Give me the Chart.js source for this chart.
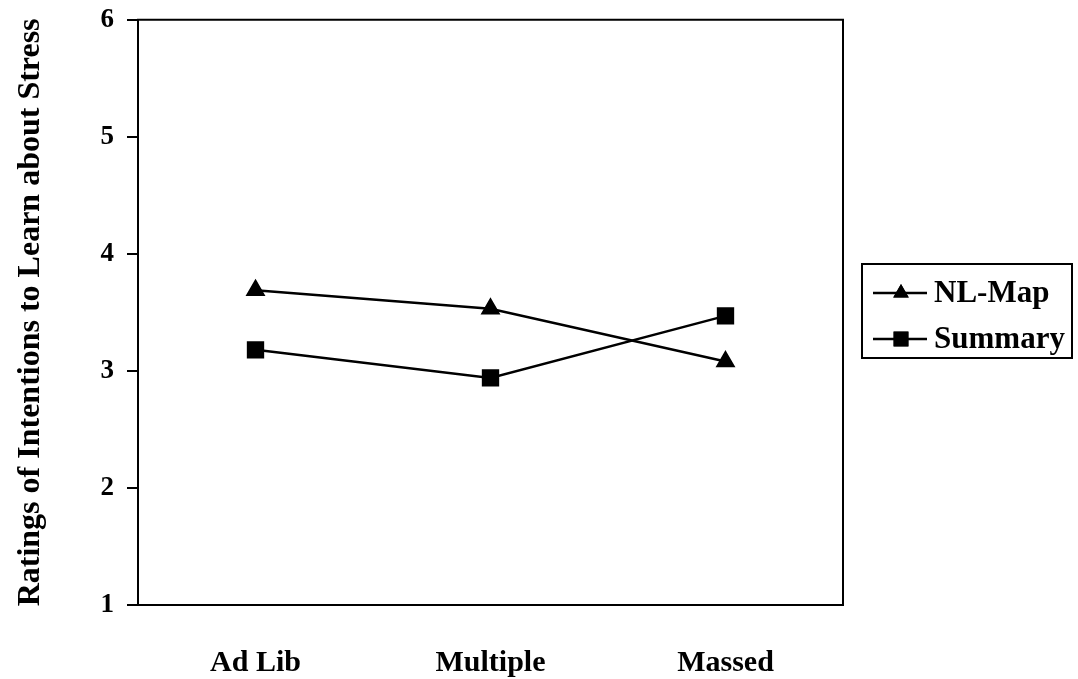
<!DOCTYPE html>
<html lang="en">
<head>
    <meta charset="UTF-8">
    <title>Ratings of Intentions to Learn about Stress</title>
    <script src="https://cdn.jsdelivr.net/npm/chart.js"></script>
    <style>
        html, body { margin: 0; padding: 0; background: #fff; }
        #wrap { width: 1078px; height: 679px; }
    </style>
</head>
<body>
<div id="wrap"><canvas id="grafico"></canvas></div>
<script>
    // Dados do gráfico
    const categorias = ["Ad Lib", "Multiple", "Massed"];
    const nlMap = [3.69, 3.53, 3.08];
    const summary = [3.18, 2.94, 3.47];
    const yTicks = [1, 2, 3, 4, 5, 6];

    const serif = "'Liberation Serif', 'Times New Roman', serif";

    // Moldura em volta da área do gráfico + legenda com caixa
    const molduraPlugin = {
        id: "moldura",
        afterDraw(chart) {
            const { ctx, chartArea: a } = chart;
            ctx.save();
            ctx.strokeStyle = "#000";
            ctx.lineWidth = 2;
            ctx.strokeRect(a.left, a.top, a.right - a.left, a.bottom - a.top);

            // legenda
            ctx.strokeRect(862, 264, 210, 94);
            const itens = [
                { label: "NL-Map", style: "triangle", r: 9, y: 293 },
                { label: "Summary", style: "rect", r: 10.5, y: 339 }
            ];
            itens.forEach(it => {
                ctx.beginPath();
                ctx.lineWidth = 2.5;
                ctx.moveTo(873, it.y);
                ctx.lineTo(927, it.y);
                ctx.stroke();
                ctx.fillStyle = "#000";
                Chart.helpers.drawPoint(ctx, { pointStyle: it.style, radius: it.r, borderWidth: 0 }, 901, it.y);
                ctx.fill();
                ctx.font = "bold 31px " + serif;
                ctx.textBaseline = "middle";
                ctx.fillText(it.label, 934, it.y + 1);
            });
            ctx.restore();
        }
    };

    new Chart(document.getElementById("grafico"), {
        type: "line",
        data: {
            labels: categorias,
            datasets: [
                {
                    label: "NL-Map",
                    data: nlMap,
                    borderColor: "#000",
                    backgroundColor: "#000",
                    borderWidth: 2.5,
                    pointStyle: "triangle",
                    pointRadius: 9,
                    pointHoverRadius: 9,
                    tension: 0
                },
                {
                    label: "Summary",
                    data: summary,
                    borderColor: "#000",
                    backgroundColor: "#000",
                    borderWidth: 2.5,
                    pointStyle: "rect",
                    pointRadius: 10.5,
                    pointHoverRadius: 10.5,
                    tension: 0
                }
            ]
        },
        options: {
            responsive: true,
            maintainAspectRatio: false,
            animation: false,
            layout: { padding: { left: 8, top: 19, right: 235, bottom: 0 } },
            plugins: {
                legend: { display: false },
                tooltip: { enabled: false }
            },
            scales: {
                x: {
                    offset: true,
                    grid: { display: false, drawTicks: false },
                    border: { display: false },
                    ticks: {
                        color: "#000",
                        padding: 40,
                        maxRotation: 0,
                        font: { family: serif, size: 30, weight: "bold" }
                    },
                    afterFit(scale) { scale.height = 679 - 605; }
                },
                y: {
                    min: 1,
                    max: 6,
                    afterBuildTicks(scale) { scale.ticks = yTicks.map(v => ({ value: v })); },
                    grid: {
                        drawOnChartArea: false,
                        drawTicks: true,
                        tickLength: 11,
                        color: "#000",
                        lineWidth: 2
                    },
                    border: { display: false },
                    ticks: {
                        color: "#000",
                        padding: 13,
                        font: { family: serif, size: 27, weight: "bold", lineHeight: 0.5 }
                    },
                    title: {
                        display: true,
                        text: "Ratings of Intentions to Learn about Stress",
                        color: "#000",
                        padding: { top: 4, bottom: 0 },
                        font: { family: serif, size: 32, weight: "bold" }
                    },
                    afterFit(scale) { scale.width = 138 - 8; }
                }
            }
        },
        plugins: [molduraPlugin]
    });
</script>
</body>
</html>
